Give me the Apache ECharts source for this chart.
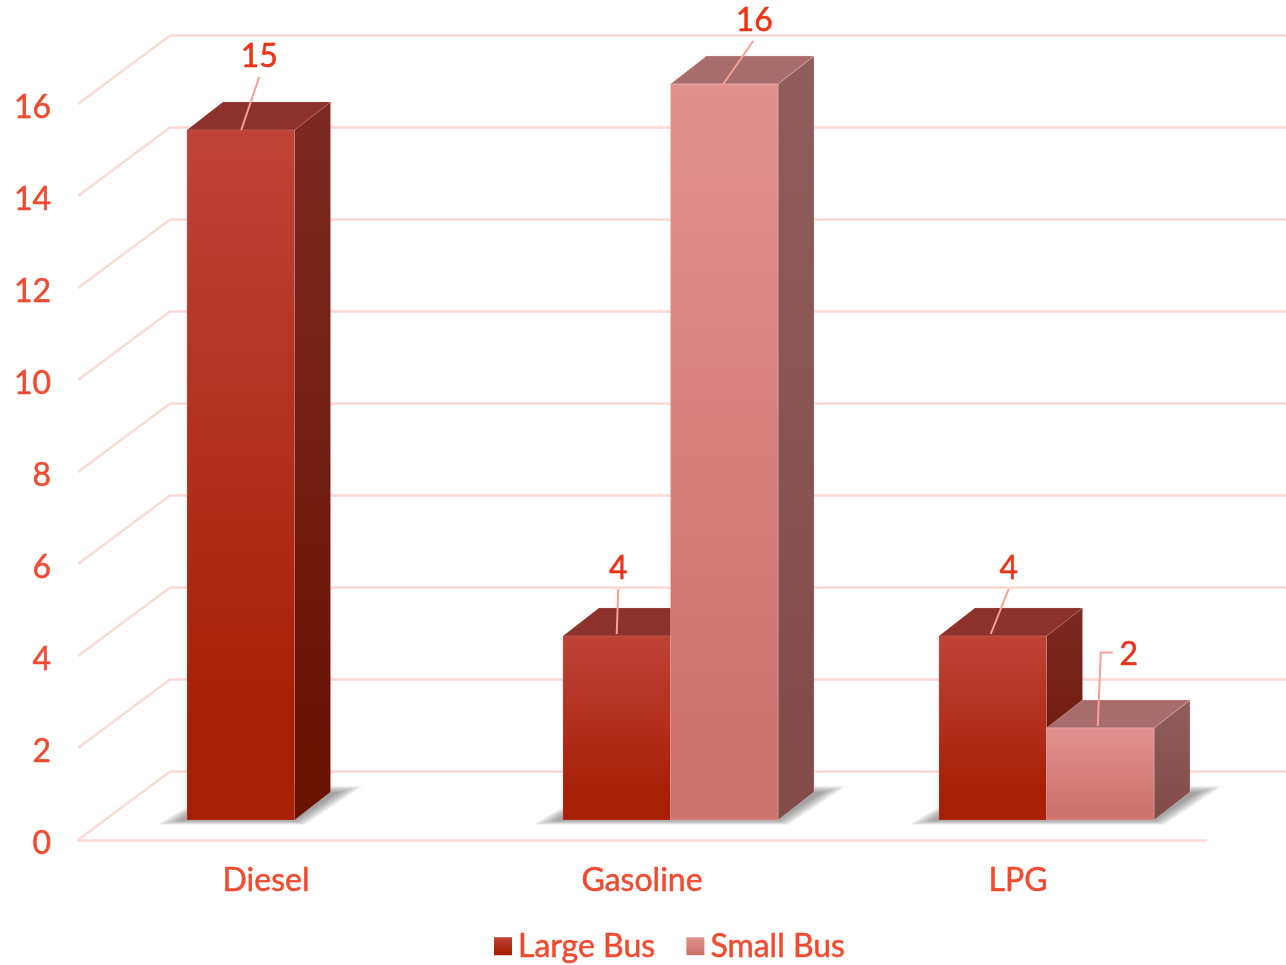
<!DOCTYPE html>
<html><head><meta charset="utf-8">
<style>html,body{margin:0;padding:0;background:#fff}#c{width:1286px;height:965px}</style>
<script src="https://cdn.jsdelivr.net/npm/echarts@6/dist/echarts.min.js"></script>
</head><body><div id="c"></div>
<script>
const categories = ['Diesel', 'Gasoline', 'LPG'];
const largeBus = [15, 4, 4];
const smallBus = [null, 16, 2];
const yTicks = [0, 2, 4, 6, 8, 10, 12, 14, 16];

const FONT = 'Lato, "Noto Sans", sans-serif';
const FONT_SIZE = 32;
const TEXT_THICKEN = 0.5;
const AXIS_TEXT = '#F04B30', LABEL_TEXT = '#EE3216', WALL = '#FCD9D3', LEADER = '#FA9F92';
const DEPTH = {dx: 36, dy: -28};        // box depth
const PLANE = {dx: 28.5, dy: -20};      // bars' plane relative to the front floor
const WALL_D = {dx: 92, dy: -68.5};
const BAR_FRACTION = 0.286;
const SHADOW_LAYERS = 16;

const vgrad = (a, b, stop) => ({type: 'linear', x: 0, y: 0, x2: 0, y2: 1,
  colorStops: [{offset: 0, color: a}, {offset: stop, color: b}, {offset: 1, color: b}]});

const skins = {
  large: {front: vgrad('#BE4337', '#A71F05', 0.85), side: vgrad('#7C2A22', '#6A1303', 0.9), top: '#8C312B', edge: 'rgba(240,170,160,0.18)'},
  small: {front: vgrad('#E1928E', '#CF736F', 0.85), side: vgrad('#8F5E5A', '#824C49', 0.9), top: '#A86D6A', edge: 'rgba(250,215,210,0.3)'}
};
// Leader lines and text placement relative to the top-centre of each bar's front face.
const labelPlacement = {
  large: [{t: [18.5, -75], l: [[18.5, -53], [0.5, 0]]}, {t: [1.5, -69], l: [[1.5, -47], [0, -2]]}, {t: [16, -69], l: [[16, -47], [-2, -2]]}],
  small: [null, {t: [30, -65], l: [[29, -43], [-1, 0]]}, {t: [28.5, -75], l: [[12.5, -75.5], [0.5, -75.5], [-2.5, -2]]}]
};

function box(api, slot) {
  const cat = api.value(0), v = api.value(1);
  const w = api.size([1, 0])[0] * BAR_FRACTION;
  const top = api.coord([cat, v]), base = api.coord([cat, 0]);
  const x0 = top[0] + PLANE.dx + (slot === 0 ? -w : 0);
  return {x0, x1: x0 + w, yT: top[1] + PLANE.dy, yB: base[1] + PLANE.dy, w, cat, v};
}

function barRenderer(key, slot) {
  return function (params, api) {
    if (isNaN(api.value(1))) return null;
    const b = box(api, slot), s = skins[key], d = DEPTH;
    const children = [
      {type: 'polygon', shape: {points: [[b.x1, b.yT], [b.x1 + d.dx, b.yT + d.dy], [b.x1 + d.dx, b.yB + d.dy], [b.x1, b.yB]]},
        style: {fill: s.side, stroke: s.edge, lineWidth: 1}},
      {type: 'polygon', shape: {points: [[b.x0, b.yT], [b.x0 + d.dx, b.yT + d.dy], [b.x1 + d.dx, b.yT + d.dy], [b.x1, b.yT]]},
        style: {fill: s.top, stroke: s.edge, lineWidth: 1}},
      {type: 'rect', shape: {x: b.x0, y: b.yT, width: b.w, height: b.yB - b.yT},
        style: {fill: s.front, stroke: s.edge, lineWidth: 1}}
    ];
    const p = labelPlacement[key][b.cat];
    if (p) {
      const cx = (b.x0 + b.x1) / 2;
      children.push({type: 'polyline', shape: {points: p.l.map(q => [cx + q[0], b.yT + q[1]])},
        style: {stroke: LEADER, lineWidth: 2, fill: 'none'}});
      children.push({type: 'text', style: {text: String(b.v), x: cx + p.t[0], y: b.yT + p.t[1] + 2,
        align: 'center', verticalAlign: 'middle', fill: LABEL_TEXT, font: FONT_SIZE + 'px ' + FONT,
        stroke: LABEL_TEXT, lineWidth: TEXT_THICKEN}});
    }
    return {type: 'group', children};
  };
}

// One floor shadow per category cluster, spanning whichever bars exist.
function shadowRenderer(params, api) {
  const cat = api.value(0), w = api.size([1, 0])[0] * BAR_FRACTION;
  const base = api.coord([cat, 0]);
  const centre = base[0] + PLANE.dx, yB = base[1] + PLANE.dy;
  const x0 = api.value(1) === 0 ? centre - w : centre;
  const x1 = api.value(2) === 1 ? centre + w : centre;
  const children = [];
  for (let k = SHADOW_LAYERS; k >= 0; k--) {
    const h = k * 1.7;
    children.push({type: 'polygon', shape: {points: [
      [x0 - 4 - h, yB + k * 0.3], [x1 + h * 0.4, yB + k * 0.3],
      [x1 + 42 + h, yB - 27 - k * 0.45], [x0 + 36, yB - 27 - k * 0.45]]},
      style: {fill: 'rgba(80,80,80,0.04)'}});
  }
  return {type: 'group', children};
}

function wallRenderer(params, api) {
  const p = api.coord([0, api.value(0)]);
  const r = api.getWidth();
  const x0 = params.coordSys.x, y = p[1];
  return {type: 'polyline', shape: {points: [[x0, y], [x0 + WALL_D.dx, y + WALL_D.dy], [r, y + WALL_D.dy]]},
    style: {stroke: WALL, lineWidth: 2.5, fill: 'none'}};
}

const toPairs = arr => arr.map((v, i) => [i, v]);
const clusters = categories.map((c, i) => [i, largeBus[i] != null ? 0 : 1, smallBus[i] != null ? 1 : 0]);

const axisText = {color: AXIS_TEXT, fontFamily: FONT, fontSize: FONT_SIZE, textBorderColor: AXIS_TEXT, textBorderWidth: TEXT_THICKEN};

const option = {
  animation: false,
  backgroundColor: '#fff',
  grid: {left: 78, right: 80, top: 104, bottom: 125},
  xAxis: {type: 'category', data: categories, boundaryGap: true,
    axisLine: {lineStyle: {color: WALL, width: 2.5}}, axisTick: {show: false},
    axisLabel: Object.assign({margin: 25}, axisText)},
  yAxis: {type: 'value', min: 0, max: 16, interval: 2,
    axisLine: {show: false}, axisTick: {show: false}, splitLine: {show: false},
    axisLabel: Object.assign({margin: 27, formatter: '{a|{value}}',
      rich: {a: Object.assign({padding: [7, 0, 0, 0]}, axisText)}}, axisText)},
  legend: {
    data: [{name: 'Large Bus', itemStyle: {color: vgrad('#BE4337', '#A71F05', 0.85)}},
           {name: 'Small Bus', itemStyle: {color: vgrad('#E1928E', '#CF736F', 0.85)}}],
    left: 494, top: 930, padding: 0, itemWidth: 18, itemHeight: 18, itemGap: 31, icon: 'rect', selectedMode: false,
    textStyle: Object.assign({padding: [0, 0, 0, 1]}, axisText)
  },
  series: [
    {type: 'custom', name: 'walls', z: 1, silent: true, renderItem: wallRenderer,
      data: yTicks.map(t => [t]), encode: {y: 0}},
    {type: 'custom', name: 'shadows', z: 2, silent: true, renderItem: shadowRenderer,
      data: clusters, encode: {x: 0}},
    {type: 'custom', name: 'Large Bus', z: 3, renderItem: barRenderer('large', 0), data: toPairs(largeBus), encode: {x: 0, y: 1},
      itemStyle: {color: '#A71F05'}},
    {type: 'custom', name: 'Small Bus', z: 4, renderItem: barRenderer('small', 1), data: toPairs(smallBus), encode: {x: 0, y: 1},
      itemStyle: {color: '#CF736F'}}
  ]
};
echarts.init(document.getElementById('c'), null, {renderer: 'canvas'}).setOption(option);
</script></body></html>
